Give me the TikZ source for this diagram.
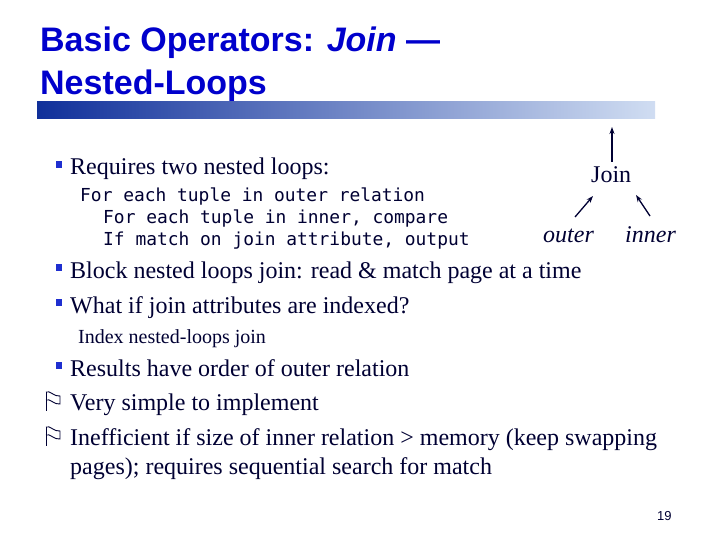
\documentclass[tikz,border=0pt]{standalone}
\usepackage{fontspec}
\setmainfont{Liberation Serif}
\setsansfont{Liberation Sans}
\setmonofont{DejaVu Sans Mono}
\usetikzlibrary{arrows.meta}
\definecolor{navy}{HTML}{000033}
\definecolor{ttl}{HTML}{0000CC}
\definecolor{bul}{HTML}{1F2FD0}
\definecolor{barl}{HTML}{10309A}
\definecolor{barm}{HTML}{1E6AE6}
\definecolor{barr}{HTML}{D0DDF2}
\begin{document}
\begin{tikzpicture}[x=1pt,y=-1pt,
  txt/.style={anchor=base west,inner sep=0,text=navy,font=\fontsize{24}{28}\selectfont},
  code/.style={anchor=base west,inner sep=0,text=navy,font=\ttfamily\fontsize{17.9}{20}\selectfont},
  ttlstyle/.style={anchor=base west,inner sep=0,text=ttl,font=\sffamily\bfseries\fontsize{34}{38}\selectfont},
  arr/.style={-{Stealth[length=7pt,width=5pt]},navy,line width=1.3pt}]
\useasboundingbox (0,0) rectangle (720,540);
\fill[white] (0,0) rectangle (720,540);
\node[ttlstyle] (t1) at (40,52) {Basic Operators: \textit{Join} —};
\node[ttlstyle] (t2) at (40,95) {Nested-Loops};
\shade[left color=barl,middle color=barm,right color=barr,shading angle=90] (37,102) rectangle (655,119);
% bullets
\foreach \y in {175,278,313,376} {\fill[bul] (56,\y-14) rectangle (62,\y-7);}
\node[txt] (r1) at (70,175) {Requires two nested loops:};
\node[code] (c1) at (80,202) {For each tuple in outer relation};
\node[code] (c2) at (103,224) {For each tuple in inner, compare};
\node[code] (c3) at (103,245) {If match on join attribute, output};
\node[txt] (j) at (591,183) {Join};
\node[txt,font=\itshape\fontsize{24}{28}\selectfont] (o) at (543,243) {outer};
\node[txt,font=\itshape\fontsize{24}{28}\selectfont] (i) at (625,243) {inner};
\coordinate (top) at (612,127);
\draw[arr] (612,162) -- (top);
\draw[arr] (575,217) -- (593,196);
\draw[arr] (650,216) -- (636,195);
\node[txt] (b2) at (70,278) {Block nested loops join: read \& match page at a time};
\node[txt] (b3) at (70,313) {What if join attributes are indexed?};
\node[txt,font=\fontsize{20}{22}\selectfont] (b3a) at (78,343) {Index nested-loops join};
\node[txt] (b4) at (70,376) {Results have order of outer relation};
% flags
\foreach \y in {410,445} {
  \draw[navy,line width=0.9pt] (46,\y-18) -- (46,\y+1);
  \draw[navy,line width=0.9pt] (46,\y-18) .. controls (50,\y-20) and (54,\y-13) .. (60,\y-14)
     -- (60,\y-6) .. controls (54,\y-5) and (50,\y-12) .. (46,\y-10);
}
\node[txt] (b5) at (70,410) {Very simple to implement};
\node[txt] (b6) at (70,445) {Inefficient if size of inner relation > memory (keep swapping};
\node[txt] (b6b) at (70,474) {pages); requires sequential search for match};
\node[anchor=base west,inner sep=0,text=navy,font=\sffamily\fontsize{13}{15}\selectfont] (pg) at (657,520) {19};
\end{tikzpicture}
\end{document}
